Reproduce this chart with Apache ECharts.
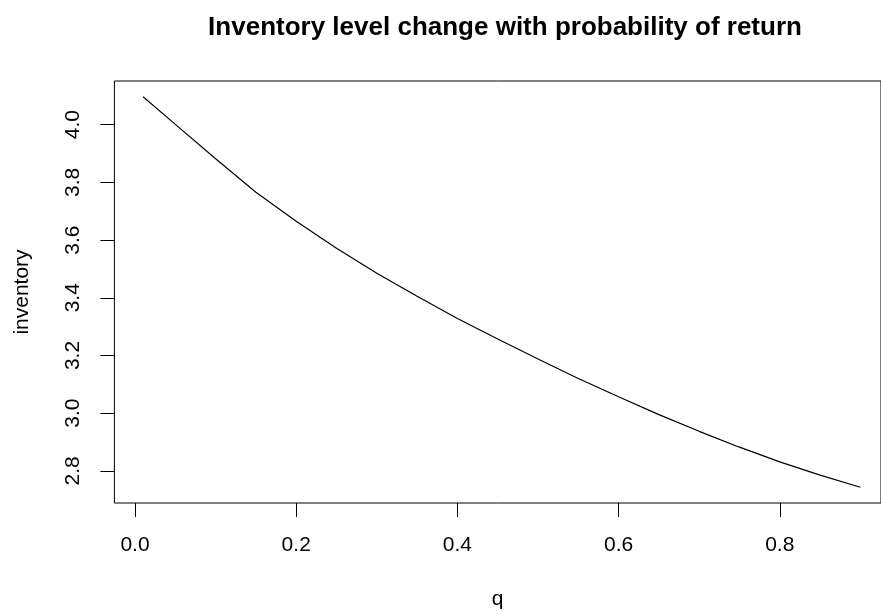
<!DOCTYPE html>
<html>
<head>
<meta charset="utf-8">
<script src="https://cdn.jsdelivr.net/npm/echarts@6/dist/echarts.min.js"></script>
<style>
html,body{margin:0;padding:0;background:#fff;}
#chart{width:881px;height:615px;}
</style>
</head>
<body>
<div id="chart"></div>
<script>
// Data
const qValues = [0.01, 0.05, 0.10, 0.15, 0.20, 0.25, 0.30, 0.35, 0.40, 0.45, 0.50, 0.55, 0.60, 0.65, 0.70, 0.75, 0.80, 0.85, 0.90];
const inventoryValues = [4.097, 4.001, 3.882, 3.766, 3.665, 3.572, 3.485, 3.405, 3.328, 3.257, 3.188, 3.120, 3.057, 2.995, 2.937, 2.882, 2.831, 2.785, 2.743];
const xTicks = [0.0, 0.2, 0.4, 0.6, 0.8];
const yTicks = [2.8, 3.0, 3.2, 3.4, 3.6, 3.8, 4.0];

const titleText = 'Inventory level change with probability of return';
const xName = 'q';
const yName = 'inventory';

const FONT = '"Liberation Sans", Arial, Helvetica, sans-serif';
const chart = echarts.init(document.getElementById('chart'), null, {renderer: 'canvas'});

const seriesData = qValues.map((q, i) => [q, inventoryValues[i]]);

chart.setOption({
  animation: false,
  backgroundColor: '#ffffff',
  title: {
    text: titleText,
    left: 500,
    top: 10,
    textAlign: 'center',
    textStyle: {fontFamily: FONT, fontSize: 26, fontWeight: 'bold', color: '#000'}
  },
  grid: {
    left: 114.4, right: -0.3, top: 81, bottom: 109.3,
    show: true, borderColor: '#000', borderWidth: 1, backgroundColor: 'transparent'
  },
  xAxis: {
    type: 'value',
    min: -0.0256,
    max: 0.9256,
    name: xName,
    nameLocation: 'middle',
    nameGap: 86,
    nameTextStyle: {fontFamily: FONT, fontSize: 21, color: '#000'},
    axisLine: {show: false, onZero: false},
    splitLine: {show: false},
    axisTick: {show: true, inside: false, length: 14, customValues: xTicks, lineStyle: {color: '#000', width: 1}},
    axisLabel: {
      show: true, margin: 32, customValues: xTicks,
      fontFamily: FONT, fontSize: 21, color: '#000',
      formatter: v => Number(v).toFixed(1)
    }
  },
  yAxis: {
    type: 'value',
    min: 2.6885,
    max: 4.1515,
    name: yName,
    nameLocation: 'middle',
    nameGap: 82,
    nameRotate: 90,
    nameTextStyle: {fontFamily: FONT, fontSize: 21, color: '#000'},
    axisLine: {show: false, onZero: false},
    splitLine: {show: false},
    axisTick: {show: true, inside: false, length: 14, customValues: yTicks, lineStyle: {color: '#000', width: 1}},
    axisLabel: {
      show: true, margin: 31, rotate: 90, customValues: yTicks,
      fontFamily: FONT, fontSize: 21, color: '#000',
      formatter: v => Number(v).toFixed(1)
    }
  },
  series: [{
    type: 'line',
    data: seriesData,
    showSymbol: false,
    smooth: false,
    lineStyle: {color: '#000', width: 1.2},
    silent: true
  }]
});
</script>
</body>
</html>
